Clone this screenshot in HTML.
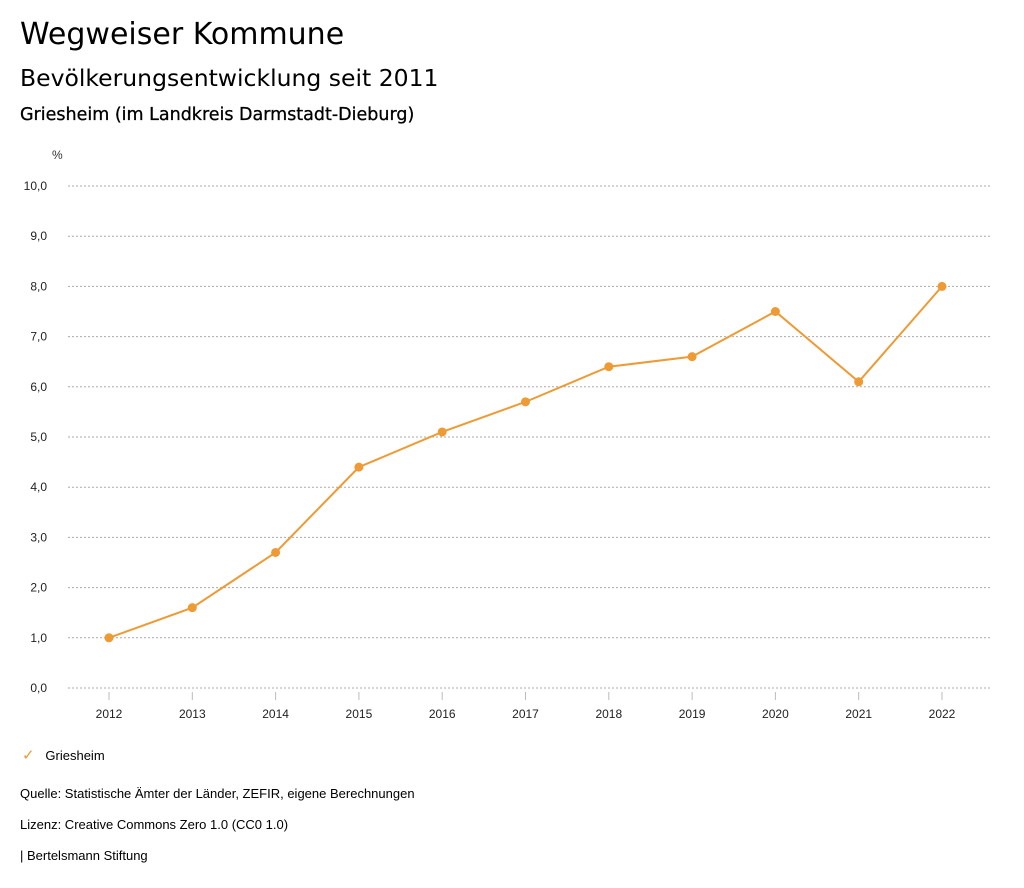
<!DOCTYPE html>
<html><head><meta charset="utf-8"><style>
body{margin:0;width:1024px;height:888px;background:#fff;font-family:"Liberation Sans",sans-serif;color:#000;overflow:hidden}
.t{position:absolute;white-space:nowrap}
.d{font-family:"DejaVu Sans",sans-serif}
</style></head><body>
<div class="t d" style="left:20px;top:17px;font-size:30px">Wegweiser Kommune</div>
<div class="t d" style="left:20px;top:64px;font-size:23.5px">Bevölkerungsentwicklung seit 2011</div>
<div class="t d" style="left:20px;top:105px;font-size:17.5px;-webkit-text-stroke:0.3px #000">Griesheim (im Landkreis Darmstadt-Dieburg)</div>
<svg id="chart" width="1024" height="888" style="position:absolute;left:0;top:0" font-family="Liberation Sans, sans-serif"></svg>
<div class="t" style="left:22px;top:746px;font-size:13px"><span style="color:#ee9a35;font-size:15px">✓</span>&nbsp;&nbsp; Griesheim</div>
<div class="t" style="left:20px;top:786px;font-size:13px">Quelle: Statistische Ämter der Länder, ZEFIR, eigene Berechnungen</div>
<div class="t" style="left:20px;top:817px;font-size:13px">Lizenz: Creative Commons Zero 1.0 (CC0 1.0)</div>
<div class="t" style="left:20px;top:848px;font-size:13px">| Bertelsmann Stiftung</div>
<script>
const years = [2012,2013,2014,2015,2016,2017,2018,2019,2020,2021,2022];
const values = [1.0,1.6,2.7,4.4,5.1,5.7,6.4,6.6,7.5,6.1,8.0];
const yTicks = [0,1,2,3,4,5,6,7,8,9,10];
const NS="http://www.w3.org/2000/svg";
const svg=document.getElementById('chart');
const x=i=>109+i*83.3;
const y=v=>688-v*50.2;
function mk(t,a){const e=document.createElementNS(NS,t);for(const k in a)e.setAttribute(k,a[k]);svg.appendChild(e);return e;}
const pl=mk('text',{x:52,y:159,'font-size':12,fill:'#333'});pl.textContent='%';


yTicks.forEach(v=>{
  const g=mk('line',{x1:68,x2:990,y1:y(v),y2:y(v),stroke:'#aaa','stroke-dasharray':'2,2'});
  
  
  const t=mk('text',{x:47,y:y(v)+4,'font-size':12,'text-anchor':'end',fill:'#222'});
  t.textContent=v.toFixed(1).replace('.',',');
  
  
});
years.forEach((yr,i)=>{
  const tk=mk('line',{x1:x(i),x2:x(i),y1:692,y2:700,stroke:'#bbb'});
  
  
  const t=mk('text',{x:x(i),y:718,'font-size':12,'text-anchor':'middle',fill:'#222'});
  t.textContent=yr;
  
  
});
const line=mk('polyline',{points:values.map((v,i)=>x(i)+','+y(v)).join(' '),fill:'none',stroke:'#ee9a35','stroke-width':2});


values.forEach((v,i)=>{
  const c=mk('circle',{cx:x(i),cy:y(v),r:4.5,fill:'#ee9a35'});
  
  
});
</script>
</body></html>
